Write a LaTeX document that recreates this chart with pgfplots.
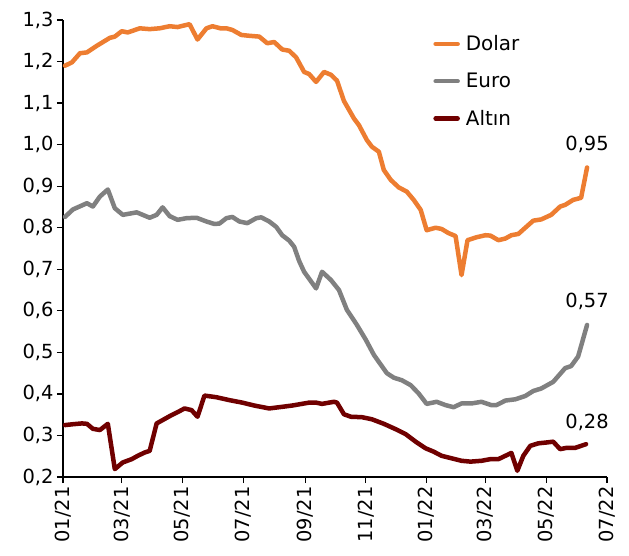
\documentclass[border=0pt]{standalone}
\usepackage{fontspec}
\setmainfont{DejaVu Sans}
\usepackage{pgfplots}
\pgfplotsset{compat=1.18}

\definecolor{dolar}{RGB}{237,125,49}
\definecolor{euro}{RGB}{128,128,128}
\definecolor{altin}{RGB}{112,0,0}

\begin{document}
\begin{tikzpicture}
\begin{axis}[
  scale only axis,
  width=544bp, height=457bp,
  xmin=0, xmax=546, ymin=0.2, ymax=1.3,
  axis x line*=bottom, axis y line*=left,
  axis line style={line width=1.2bp, -},
  tick style={line width=1.2bp, black},
  tick align=outside,
  major tick length=6bp,
  xtick={0,59,120,181,243,304,365,424,485,546},
  xticklabels={01/21,03/21,05/21,07/21,09/21,11/21,01/22,03/22,05/22,07/22},
  x tick label style={rotate=90, anchor=east},
  ytick={0.2,0.3,...,1.31},
  yticklabel style={/pgf/number format/.cd, fixed, fixed zerofill, precision=1, use comma, assume math mode=true},
  tick label style={font=\fontsize{19.5}{22}\selectfont},
  legend style={draw=none, at={(0.675,0.975)}, anchor=north west,
    font=\fontsize{20}{23}\selectfont, row sep=17bp, fill=none,
    nodes={inner xsep=6bp}},
  legend cell align=left,
  legend image code/.code={\draw[#1, line cap=round] (0bp,0bp) -- (22bp,0bp);},
  every axis plot/.append style={line width=4.5bp, line join=round, line cap=round, mark=none},
]
\addplot[dolar] coordinates {
(2,1.19)(9,1.198)(17,1.22)(24,1.222)(34,1.238)(47,1.257)(52,1.26)(59,1.273)(65,1.27)
(77,1.28)(87,1.278)(97,1.28)(107,1.285)(115,1.283)(127,1.29)(135,1.253)(144,1.28)
(150,1.285)(158,1.28)(164,1.28)(170,1.276)(179,1.264)(187,1.262)(197,1.26)(205,1.244)
(212,1.247)(220,1.229)(227,1.226)(234,1.21)(242,1.175)(247,1.17)(254,1.151)(262,1.175)
(269,1.168)(275,1.154)(282,1.105)(292,1.063)(297,1.047)(305,1.011)(310,0.995)(317,0.983)
(322,0.939)(329,0.915)(337,0.897)(345,0.887)(352,0.867)(359,0.843)(365,0.794)(374,0.80)
(380,0.797)(387,0.787)(394,0.78)(400,0.686)(406,0.77)(415,0.777)(424,0.782)(429,0.781)
(437,0.77)(444,0.774)(450,0.782)(457,0.785)(464,0.80)(472,0.817)(480,0.82)(490,0.831)
(499,0.851)(504,0.855)(512,0.867)(520,0.872)(526,0.945)
};
\addlegendentry{Dolar}
\addplot[euro] coordinates {
(2,0.826)(10,0.844)(24,0.859)(30,0.851)(37,0.875)(45,0.892)(52,0.847)(60,0.831)(74,0.837)
(87,0.824)(94,0.831)(100,0.849)(107,0.828)(115,0.819)(124,0.823)(134,0.824)(144,0.815)
(152,0.809)(157,0.81)(164,0.823)(170,0.826)(177,0.815)(185,0.811)(194,0.823)(199,0.825)
(207,0.815)(214,0.802)(220,0.782)(227,0.769)(232,0.754)(237,0.72)(242,0.694)(254,0.654)
(260,0.694)(269,0.674)(277,0.65)(285,0.602)(295,0.566)(304,0.53)(312,0.494)(317,0.477)
(325,0.45)(332,0.439)(340,0.433)(349,0.421)(357,0.401)(365,0.376)(375,0.381)(384,0.373)
(392,0.368)(400,0.377)(410,0.377)(420,0.381)(430,0.373)(435,0.373)(444,0.384)(454,0.387)
(464,0.395)(472,0.407)(480,0.413)(492,0.429)(504,0.462)(510,0.467)(517,0.49)(526,0.566)
};
\addlegendentry{Euro}
\addplot[altin] coordinates {
(2,0.325)(10,0.327)(19,0.329)(24,0.328)(30,0.316)(37,0.313)(45,0.328)(52,0.219)(60,0.235)
(69,0.243)(75,0.251)(82,0.259)(87,0.263)(94,0.329)(100,0.337)(109,0.349)(115,0.356)
(122,0.365)(129,0.361)(135,0.345)(142,0.396)(154,0.392)(167,0.385)(180,0.379)(192,0.372)
(207,0.365)(217,0.368)(230,0.372)(247,0.379)(254,0.379)(260,0.376)(267,0.379)(272,0.381)
(275,0.379)(282,0.351)(289,0.345)(300,0.344)(310,0.339)(322,0.328)(334,0.315)(344,0.303)
(354,0.285)(364,0.269)(372,0.261)(380,0.251)(390,0.245)(400,0.239)(409,0.237)(420,0.239)
(429,0.243)(437,0.243)(444,0.251)(450,0.258)(456,0.215)(462,0.251)(469,0.275)(477,0.281)
(485,0.283)(492,0.285)(499,0.267)(505,0.27)(514,0.27)(520,0.275)(525,0.279)
};
\addlegendentry{Altın}
\node[font=\fontsize{19.5}{22}\selectfont] at (axis cs:526,1.0) {0,95};
\node[font=\fontsize{19.5}{22}\selectfont] at (axis cs:526,0.622) {0,57};
\node[font=\fontsize{19.5}{22}\selectfont] at (axis cs:526,0.331) {0,28};
\end{axis}
\pgfresetboundingbox
\path (current axis.south west) ++(-63bp,-79bp) rectangle ++(629bp,556bp);
\end{tikzpicture}
\end{document}
